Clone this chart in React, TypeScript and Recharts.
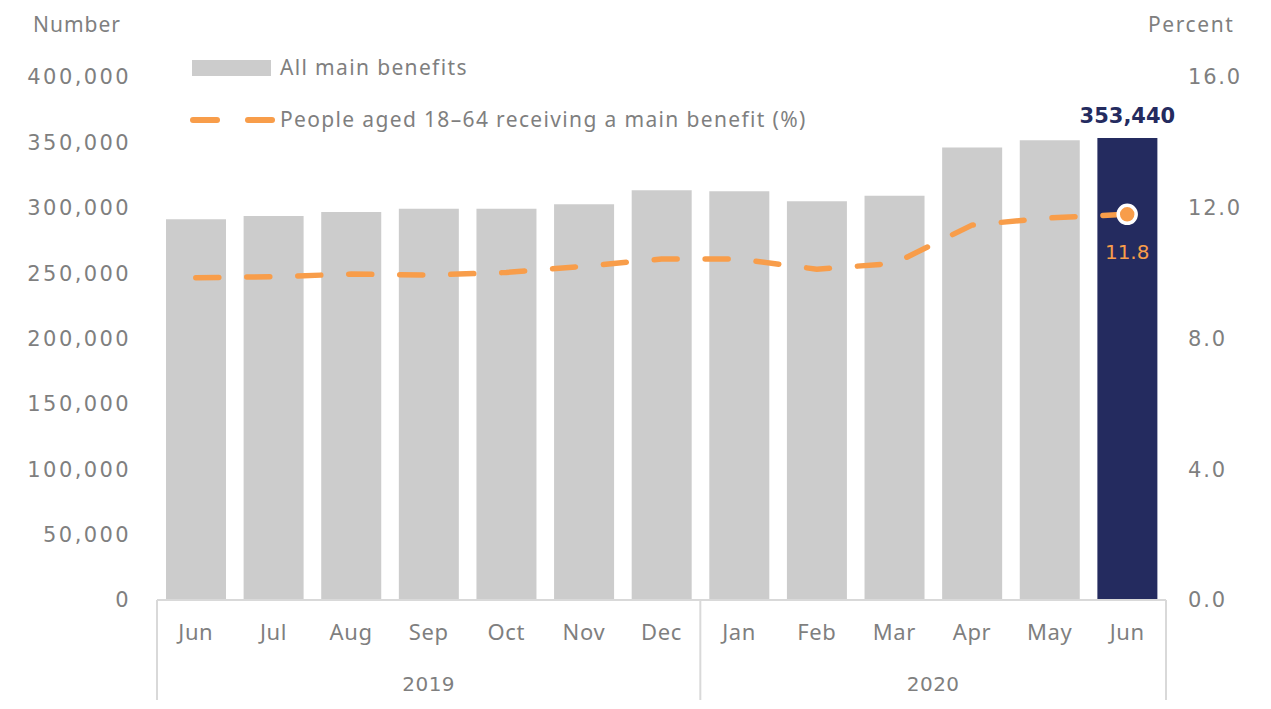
import { ComposedChart, Bar, Line, Cell, XAxis, YAxis, LabelList } from "recharts";

const months = ["Jun", "Jul", "Aug", "Sep", "Oct", "Nov", "Dec", "Jan", "Feb", "Mar", "Apr", "May", "Jun"];
const years = ["2019", "2019", "2019", "2019", "2019", "2019", "2019", "2020", "2020", "2020", "2020", "2020", "2020"];
const benefits = [291300, 293600, 296800, 299200, 299200, 302700, 313400, 312700, 305000, 309100, 346000, 351700, 353440];
const percent = [9.86, 9.89, 9.97, 9.94, 10.02, 10.21, 10.43, 10.43, 10.12, 10.3, 11.47, 11.69, 11.8];
const leftTicks = [0, 50000, 100000, 150000, 200000, 250000, 300000, 350000, 400000];
const rightTicks = [0, 4, 8, 12, 16];

const data = months.map((m, i) => ({
  key: m + " " + years[i],
  month: m,
  year: years[i],
  benefits: benefits[i],
  percent: percent[i],
}));

const W = 1271;
const H = 709;
const LEFT = 157;
const RIGHT = 105;
const PLOT_W = W - LEFT - RIGHT;
const band = PLOT_W / data.length;
const last = data.length - 1;

const grey = "#7f7f7f";
const orange = "#f89d4a";
const navy = "#242b5f";
const font = "'Noto Sans', sans-serif";
const numFont = "'DejaVu Sans', sans-serif";

const MonthTick = (props: any) => {
  const { x, y, payload } = props;
  const i = payload.index;
  const startsYear = i === 0 || years[i] !== years[i - 1];
  let groupLen = 0;
  if (startsYear) {
    while (i + groupLen < years.length && years[i + groupLen] === years[i]) groupLen++;
  }
  const left = x - band / 2;
  return (
    <g>
      <text x={x} y={y + 40} textAnchor="middle" fill={grey} fontSize={22} fontFamily={font} letterSpacing={0.6}>
        {months[i]}
      </text>
      {startsYear && <line x1={left} x2={left} y1={y} y2={y + 100} stroke="#d9d9d9" strokeWidth={2} />}
      {i === last && <line x1={x + band / 2} x2={x + band / 2} y1={y} y2={y + 100} stroke="#d9d9d9" strokeWidth={2} />}
      {startsYear && (
        <text x={left + (groupLen * band) / 2} y={y + 91} textAnchor="middle" fill={grey} fontSize={20} fontFamily={numFont} letterSpacing={0.5}>
          {years[i]}
        </text>
      )}
    </g>
  );
};

const EndDot = (props: any) => {
  const { cx, cy, index } = props;
  if (index !== last) return <g key={index} />;
  return <circle key={index} cx={cx} cy={cy} r={9} fill={orange} stroke="#fff" strokeWidth={3.5} />;
};

const EndPercent = (props: any) => {
  const { x, y, index, value } = props;
  if (index !== last) return null;
  return (
    <text x={x} y={y + 45} textAnchor="middle" fill={orange} fontSize={20} fontFamily={numFont}>
      {Number(value).toFixed(1)}
    </text>
  );
};

const EndValue = (props: any) => {
  const { x, y, width, index, value } = props;
  if (index !== last) return null;
  return (
    <text x={x + width / 2} y={y - 15} textAnchor="middle" fill={navy} fontSize={21} fontWeight={700} fontFamily={numFont}>
      {Number(value).toLocaleString("en-US")}
    </text>
  );
};

export default function App() {
  return (
    <div style={{ position: "absolute", left: 0, top: 0, width: W, height: H, fontFamily: font, background: "#fff" }}>
      <div style={{ position: "absolute", left: 33, top: 10, fontSize: 21, letterSpacing: 1, color: grey }}>Number</div>
      <div style={{ position: "absolute", left: 1148, top: 10, fontSize: 21, letterSpacing: 1.6, color: grey }}>Percent</div>
      <div style={{ position: "absolute", left: 192, top: 53, display: "flex", alignItems: "center", fontSize: 21, letterSpacing: 1.35, color: grey, zIndex: 2 }}>
        <svg width={88} height={20}>
          <rect x={0} y={3} width={79} height={16} fill="#cccccc" />
        </svg>
        <span>All main benefits</span>
      </div>
      <div style={{ position: "absolute", left: 188, top: 105, display: "flex", alignItems: "center", fontSize: 21, letterSpacing: 1.35, color: grey, zIndex: 2 }}>
        <svg width={92} height={20}>
          <line x1={5} x2={29} y1={11} y2={11} stroke={orange} strokeWidth={6} strokeLinecap="round" />
          <line x1={60} x2={84} y1={11} y2={11} stroke={orange} strokeWidth={6} strokeLinecap="round" />
        </svg>
        <span>People aged 18–64 receiving a main benefit (%)</span>
      </div>
      <ComposedChart width={W} height={H} data={data} margin={{ top: 77, right: 0, bottom: 9, left: 0 }}>
        <XAxis
          dataKey="key"
          height={100}
          tickLine={false}
          tickSize={0}
          tickMargin={0}
          interval={0}
          axisLine={{ stroke: "#d9d9d9", strokeWidth: 2 }}
          tick={<MonthTick />}
        />
        <YAxis
          yAxisId="left"
          width={LEFT}
          domain={[0, 400000]}
          ticks={leftTicks}
          axisLine={false}
          tickLine={false}
          tickSize={0}
          tickMargin={26}
          tickFormatter={(v: number) => v.toLocaleString("en-US")}
          tick={{ fill: grey, fontSize: 21, fontFamily: numFont, letterSpacing: 2.4 }}
        />
        <YAxis
          yAxisId="right"
          orientation="right"
          width={RIGHT}
          domain={[0, 16]}
          ticks={rightTicks}
          axisLine={false}
          tickLine={false}
          tickSize={0}
          tickMargin={22}
          tickFormatter={(v: number) => v.toFixed(1)}
          tick={{ fill: grey, fontSize: 21, fontFamily: numFont, letterSpacing: 1.8, textAnchor: "start" }}
        />
        <Bar yAxisId="left" dataKey="benefits" barSize={60} fill="#cccccc" isAnimationActive={false}>
          {data.map((d, i) => (
            <Cell key={d.key} fill={i === last ? navy : "#cccccc"} />
          ))}
          <LabelList dataKey="benefits" content={<EndValue />} />
        </Bar>
        <Line
          yAxisId="right"
          type="linear"
          dataKey="percent"
          stroke={orange}
          strokeWidth={5.5}
          strokeDasharray="23 28"
          strokeLinecap="round"
          dot={<EndDot />}
          activeDot={false}
          isAnimationActive={false}
        >
          <LabelList dataKey="percent" content={<EndPercent />} />
        </Line>
      </ComposedChart>
    </div>
  );
}
